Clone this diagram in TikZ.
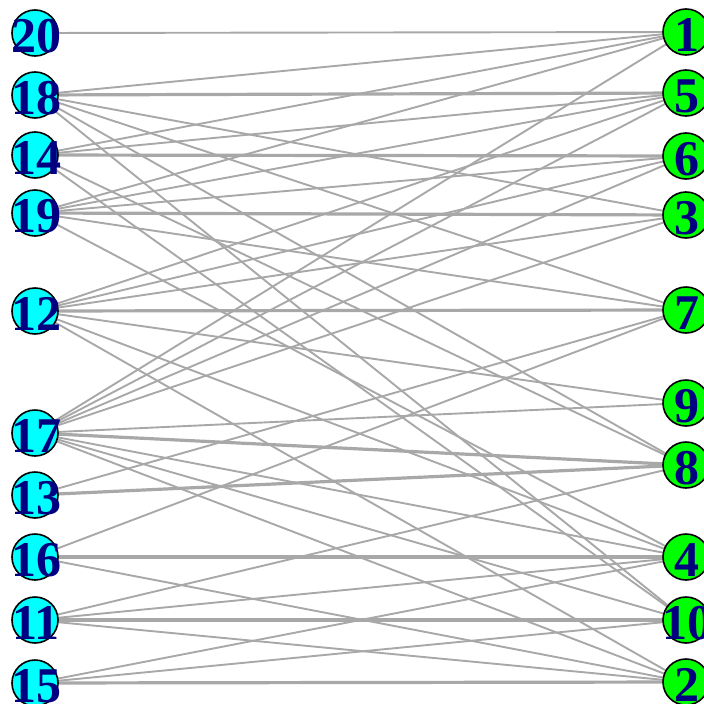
\documentclass[tikz,border=0pt]{standalone}
\usepackage{fontspec}
\setmainfont{Liberation Serif}
\begin{document}
\begin{tikzpicture}[x=1pt,y=-1pt,
  edge/.style={draw={rgb,255:red,168;green,168;blue,168},line width=1.9pt},
  thick edge/.style={edge,line width=3.2pt},
  vtx/.style={circle,draw=black,line width=1.6pt,minimum size=46pt,inner sep=0pt},
  lnode/.style={vtx,fill={rgb,255:red,0;green,255;blue,255}},
  rnode/.style={vtx,fill={rgb,255:red,0;green,255;blue,0}},
  lab/.style={text={rgb,255:red,0;green,0;blue,128},font=\fontsize{50}{50}\selectfont\bfseries,inner sep=0pt}]
\useasboundingbox (0,0) rectangle (704,704);
\foreach \n/\y in {20/33,18/95,14/155,19/213,12/311,17/433,13/495,16/557,11/620,15/683}{
  \coordinate (L\n) at (35,\y);
}
\foreach \n/\y in {1/32,5/93,6/156,3/215,7/310,9/403,8/465,4/557,10/620,2/682}{
  \coordinate (R\n) at (686,\y);
}
% edges
\foreach \a/\b in {20/1,18/1,18/3,18/7,18/10,18/8,
  14/1,14/5,14/8,14/10,
  19/1,19/5,19/6,19/7,19/4,
  12/5,12/6,12/3,12/9,12/4,12/2,
  17/1,17/5,17/6,17/3,17/9,17/4,17/10,17/2,
  13/7,16/7,16/2,11/8,11/4,11/2,15/4,15/10}{
  \draw[edge] (L\a) -- (R\b);
}
\foreach \a/\b in {18/5,14/6,19/3,12/7,17/8,13/8,16/4,11/10,15/2}{
  \draw[thick edge] (L\a) -- (R\b);
}
% nodes
\foreach \n/\y in {20/33,18/95,14/155,19/213,12/311,17/433,13/495,16/557,11/620,15/683}{
  \node[lnode] (n\n) at (35,\y) {};
  \node[lab] (t\n) at (36,\y+3) {\n};
}
\foreach \n/\y in {1/32,5/93,6/156,3/215,7/310,9/403,8/465,4/557,10/620,2/682}{
  \node[rnode] (n\n) at (686,\y) {};
  \node[lab] (t\n) at (687,\y+3) {\n};
}
\end{tikzpicture}
\end{document}
